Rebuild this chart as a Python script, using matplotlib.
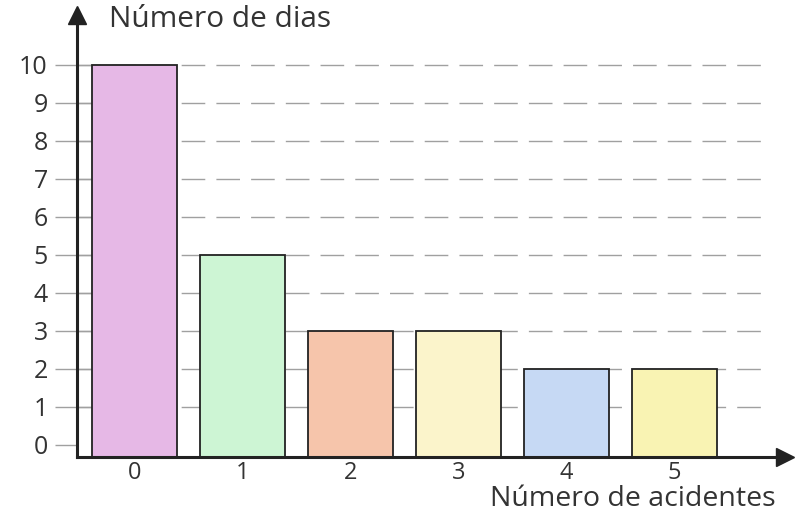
import numpy as np
import matplotlib.pyplot as plt

plt.rcParams['font.family'] = ['Open Sans', 'DejaVu Sans']

## Data
acidentes = [0, 1, 2, 3, 4, 5]
dias = [10, 5, 3, 3, 2, 2]
bar_colors = ['#e6b8e6', '#cdf5d4', '#f6c5ab', '#fbf4cb', '#c6d9f4', '#f9f3b3']
y_ticks = list(range(0, 11))

y_floor = -0.32

fig = plt.figure(figsize=(7.96, 5.15), dpi=100)
ax = fig.add_axes([0.0967, 0.1126, 0.889, 0.858])

## dashed guide lines behind the bars
for v in y_ticks[1:]:
	ax.plot([-0.53, 5.8], [v, v], color='#a0a0a0', lw=1.0, dashes=(17, 8), zorder=0)
	ax.plot([-0.53, -0.35], [v, v], color='#a0a0a0', lw=1.0, zorder=0)

ax.bar(acidentes, np.array(dias) - y_floor, bottom=y_floor, width=0.79,
       color=bar_colors, edgecolor='#222222', linewidth=1.3, zorder=2)

ax.set_xlim(-0.53, 6.02)
ax.set_ylim(y_floor, 11.3)

ax.set_yticks(y_ticks)
ax.set_yticklabels([str(v) for v in y_ticks], fontsize=18, color='#333333')
ax.set_xticks(acidentes)
ax.set_xticklabels([str(v) for v in acidentes], fontsize=17, color='#333333')
ax.tick_params(axis='y', length=16, width=1.0, color='#a0a0a0', pad=5)
ax.tick_params(axis='x', length=0, pad=3)

for s in ['top', 'right']:
	ax.spines[s].set_visible(False)
ax.spines['left'].set_linewidth(2.2)
ax.spines['bottom'].set_linewidth(2.2)
ax.spines['left'].set_color('#222222')
ax.spines['bottom'].set_color('#222222')

## arrow heads
ax.plot(0, 1, marker='^', markersize=13, color='#222222', transform=ax.transAxes, clip_on=False)
ax.plot(1, 0, marker='>', markersize=13, color='#222222', transform=ax.transAxes, clip_on=False)

fig.text(0.137, 0.963, 'Número de dias', fontsize=21.5, color='#333333', va='center', ha='left')
fig.text(0.975, 0.018, 'Número de acidentes', fontsize=20.5, color='#333333', va='baseline', ha='right')

fig.savefig('out.png', dpi=100, facecolor='white')
